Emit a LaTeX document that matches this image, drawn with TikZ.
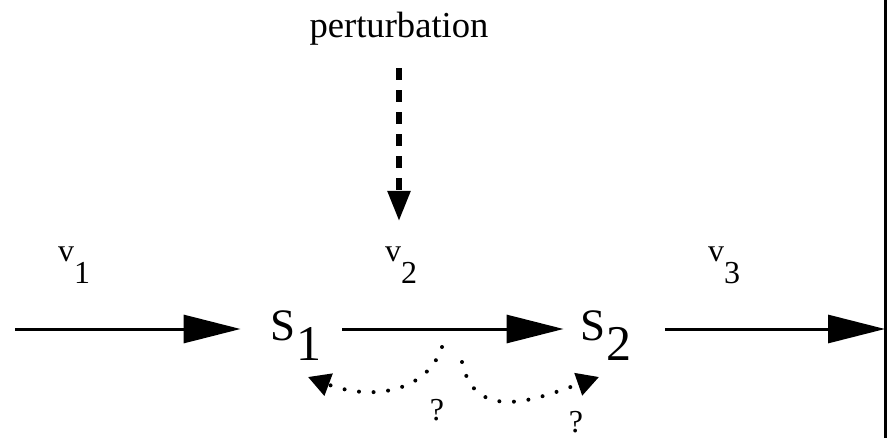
\documentclass[tikz,border=0pt]{standalone}
\usepackage{fontspec}
\setmainfont{Liberation Serif}
\newfontfamily\tms{Liberation Serif}
\usetikzlibrary{arrows.meta}
\newcommand{\fsz}[1]{\fontsize{#1}{#1}\selectfont}
\newcommand{\flux}[1]{\fsz{16}v\lower11pt\hbox{#1}}
\newcommand{\pool}[1]{\fsz{22.5}S\lower10pt\hbox{\fsz{25}#1}}
\begin{document}
\begin{tikzpicture}[x=0.5pt,y=-0.5pt,
  txt/.style={inner sep=0pt,anchor=base,font=\tms},
  flow/.style={line width=1.5pt,-{Triangle[length=28.5pt,width=14pt]}},
  push/.style={line width=2.75pt,dash pattern=on 6pt off 5pt,-{Triangle[length=15pt,width=11pt]}},
  doubt/.style={line width=2pt,line cap=round,dash pattern=on 0pt off 7.3pt,-{Triangle[length=11pt,width=11.5pt]}}]
\useasboundingbox (0,0) rectangle (888,438);

\coordinate (in) at (15,329);
\coordinate (wtop) at (885,0);
\coordinate (wbot) at (885,438);
\coordinate (fbl) at (442,347);
\coordinate (fbr) at (462,362);
\coordinate (tl) at (308,377);
\coordinate (tr) at (599,377);

\node[txt] (pert) at (399,38) {\fsz{18.3}perturbation};
\node[txt] (v1) at (74,262) {\flux{1}};
\node[txt] (v2) at (401,262) {\flux{2}};
\node[txt] (v3) at (724,262) {\flux{3}};
\node[txt] (s1) at (296,340) {\pool{1}};
\node[txt] (s2) at (606,340) {\pool{2}};
\node[txt] (q1) at (437,420) {\fsz{16}?};
\node[txt] (q2) at (576,432) {\fsz{16}?};

\draw[line width=1.5pt] (wtop) -- (wbot);
\draw[flow,shorten >=15pt] (in) -- (in -| s1.west);
\draw[flow,shorten <=10.5pt,shorten >=8.5pt] (in -| s1.east) -- (in -| s2.west);
\draw[flow,shorten <=17pt] (in -| s2.east) -- (in -| wtop);
\draw[push,shorten <=11pt,shorten >=13pt] (pert.south) -- (pert.south |- v2.north);
\draw[doubt] (fbl) .. controls +(-14,43) and +(67,25) .. (tl);
\draw[doubt] (fbr) .. controls +(13,63) and +(-60,21) .. (tr);
\end{tikzpicture}
\end{document}
